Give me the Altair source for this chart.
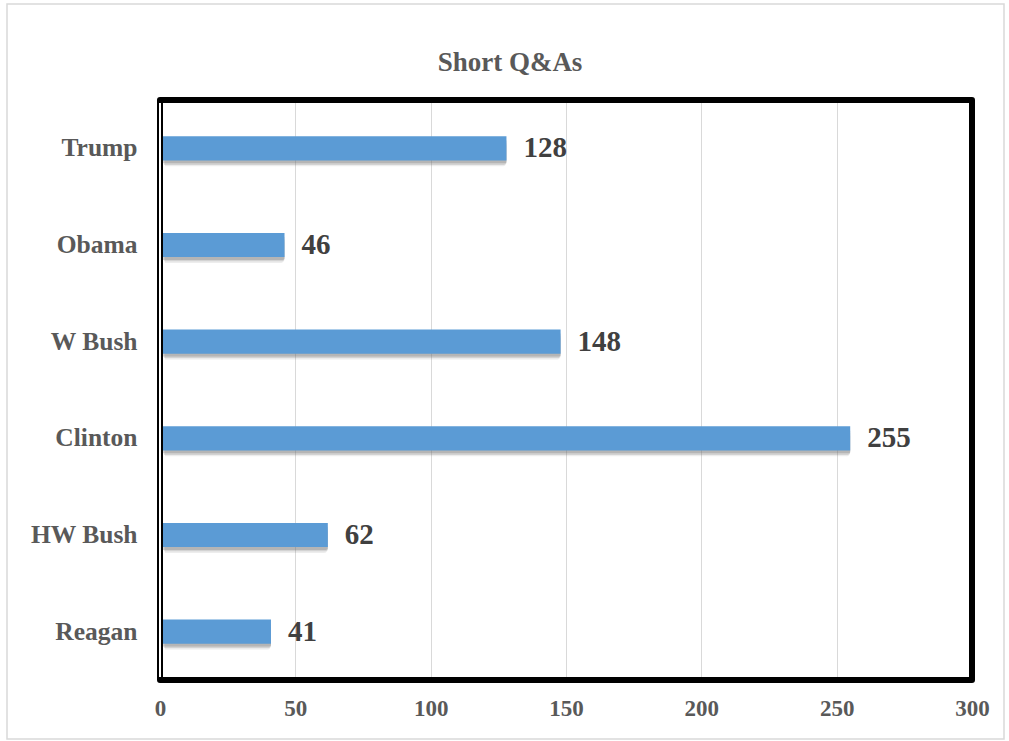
import altair as alt
import pandas as pd

presidents = ["Trump", "Obama", "W Bush", "Clinton", "HW Bush", "Reagan"]
counts = [128, 46, 148, 255, 62, 41]
x_ticks = [0, 50, 100, 150, 200, 250, 300]

df = pd.DataFrame({"president": presidents, "count": counts})

W, H = 812, 580
SERIF = "Liberation Serif"

x_enc = alt.X("count:Q",
              scale=alt.Scale(domain=[0, 300], nice=False),
              axis=alt.Axis(values=x_ticks, title=None, grid=True, gridColor="#d9d9d9",
                            gridWidth=1, domain=False, ticks=False, labelFont=SERIF,
                            labelFontSize=23, labelFontWeight="bold", labelColor="#595959",
                            labelPadding=17, labelFlush=False))
y_enc = alt.Y("president:N", sort=presidents,
              scale=alt.Scale(paddingInner=0.75, paddingOuter=0.375),
              axis=alt.Axis(title=None, domain=False, ticks=False, grid=False,
                            labelFont=SERIF, labelFontSize=25.5, labelFontWeight="bold",
                            labelColor="#595959", labelPadding=23))

base = alt.Chart(df)

frame = alt.Chart(pd.DataFrame({"a": [0]})).mark_rect(
    fill=None, stroke="#d9d9d9", strokeWidth=1.5
).encode(x=alt.value(-153), x2=alt.value(844), y=alt.value(-96), y2=alt.value(639))

shadow0 = base.mark_bar(color="#6f6f6f", opacity=0.12, xOffset=5, yOffset=6,
                        cornerRadius=4).encode(x=x_enc, y=y_enc)
shadow1 = base.mark_bar(color="#6f6f6f", opacity=0.2, xOffset=4, yOffset=4.5,
                        cornerRadius=3).encode(x=x_enc, y=y_enc)
shadow2 = base.mark_bar(color="#6f6f6f", opacity=0.3, xOffset=2, yOffset=3,
                        cornerRadius=2).encode(x=x_enc, y=y_enc)
bars = base.mark_bar(color="#5b9bd5").encode(x=x_enc, y=y_enc)
labels = base.mark_text(align="left", baseline="middle", dx=17, font=SERIF,
                        fontSize=29, fontWeight="bold", color="#404040").encode(
    x=x_enc, y=y_enc, text="count:Q")

border = alt.Chart(pd.DataFrame({"a": [0]})).mark_rect(
    fill=None, stroke="black", strokeWidth=6, strokeJoin="round"
).encode(x=alt.value(0), x2=alt.value(W), y=alt.value(0), y2=alt.value(H))
inner = alt.Chart(pd.DataFrame({"a": [0]})).mark_rule(
    color="white", strokeWidth=2
).encode(x=alt.value(0), y=alt.value(3), y2=alt.value(H - 3))

chart = alt.layer(frame, shadow0, shadow1, shadow2, bars, labels, border, inner).properties(
    width=W, height=H,
    title=alt.TitleParams("Short Q&As", font=SERIF, fontSize=27, fontWeight="bold",
                          color="#595959", anchor="middle", dx=-56, offset=-95,
                          baseline="alphabetic"),
    autosize=alt.AutoSizeParams(type="none"),
    padding={"left": 160, "top": 100, "right": 37, "bottom": 61},
).configure_view(stroke=None).configure(background="white")

chart.save("out.html", embed_options={"renderer": "svg", "actions": False})
